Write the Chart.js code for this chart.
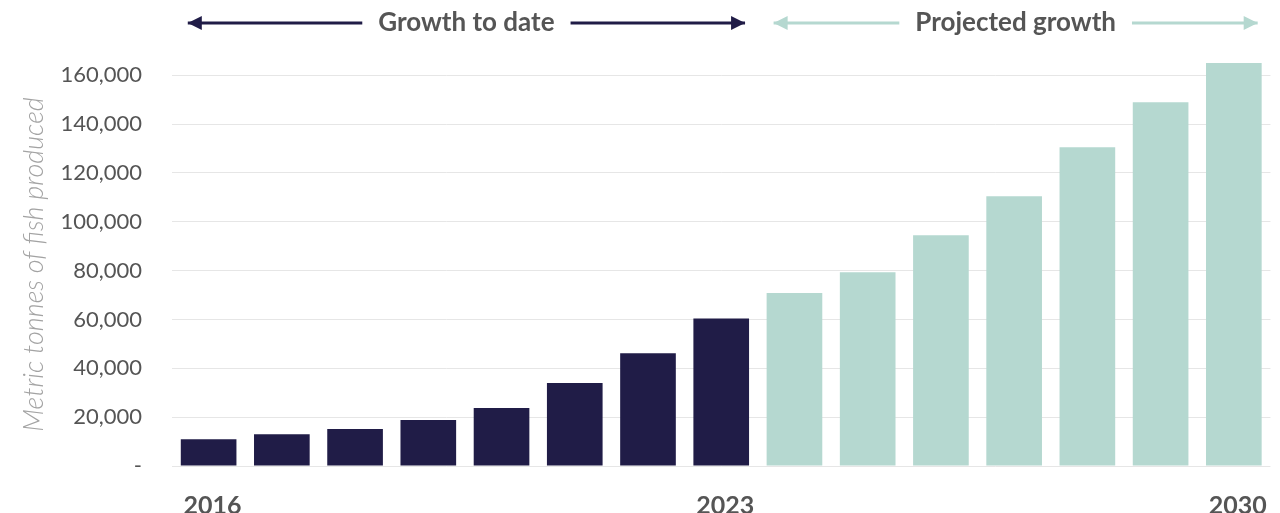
<!DOCTYPE html>
<html>
<head>
<meta charset="utf-8">
<script src="https://cdn.jsdelivr.net/npm/chart.js@4/dist/chart.umd.min.js"></script>
<style>
  html, body { margin: 0; padding: 0; background: #fff; }
  #wrap { width: 1280px; height: 513px; position: relative; }
</style>
</head>
<body>
<div id="wrap"><canvas id="chart"></canvas></div>
<script>
// years and production (metric tonnes)
const years = ["2016", "2017", "2018", "2019", "2020", "2021", "2022", "2023",
               "2024", "2025", "2026", "2027", "2028", "2029", "2030"];
const tonnes = [11000, 13000, 15100, 18800, 23700, 34000, 46200, 60400,
                70800, 79300, 94500, 110400, 130500, 148900, 165000];
const yTicks = [0, 20000, 40000, 60000, 80000, 100000, 120000, 140000, 160000];
const lastActualIndex = 7;   // 2023
const shownYears = ["2016", "2023", "2030"];

const NAVY = "#201c47";
const TEAL = "#b5d8d0";
const TEXT = "#555555";
const BAR_PCT = 0.76;

// header arrows + labels above the bars
const headerPlugin = {
  id: "header",
  afterDraw(chart) {
    const ctx = chart.ctx;
    const x = chart.scales.x;
    const barHalf = (x.getPixelForValue(1) - x.getPixelForValue(0)) * BAR_PCT / 2;
    const y = 23;

    function arrow(x1, x2, color, head) {
      ctx.save();
      ctx.strokeStyle = color;
      ctx.fillStyle = color;
      ctx.lineWidth = 3;
      ctx.beginPath();
      ctx.moveTo(x1, y);
      ctx.lineTo(x2, y);
      ctx.stroke();
      const dir = head === "left" ? -1 : 1;
      const tip = head === "left" ? x1 : x2;
      ctx.beginPath();
      ctx.moveTo(tip, y);
      ctx.lineTo(tip - dir * 14, y - 7);
      ctx.lineTo(tip - dir * 14, y + 7);
      ctx.closePath();
      ctx.fill();
      ctx.restore();
    }

    function group(from, to, text, color) {
      const left = x.getPixelForValue(from) - barHalf + 7;
      const right = x.getPixelForValue(to) + barHalf - 4;
      ctx.save();
      ctx.font = "bold 26px Lato";
      ctx.fillStyle = TEXT;
      ctx.textAlign = "center";
      ctx.textBaseline = "middle";
      const w = ctx.measureText(text).width;
      const mid = (left + right) / 2;
      ctx.fillText(text, mid, y);
      ctx.restore();
      arrow(left, mid - w / 2 - 16, color, "left");
      arrow(mid + w / 2 + 16, right, color, "right");
    }

    group(0, lastActualIndex, "Growth to date", NAVY);
    group(lastActualIndex + 1, years.length - 1, "Projected growth", TEAL);
  }
};

new Chart(document.getElementById("chart"), {
  type: "bar",
  data: {
    labels: years,
    datasets: [{
      data: tonnes,
      backgroundColor: tonnes.map((v, i) => (i <= lastActualIndex ? NAVY : TEAL)),
      barPercentage: BAR_PCT,
      categoryPercentage: 1.0
    }]
  },
  options: {
    responsive: true,
    maintainAspectRatio: false,
    animation: false,
    layout: { padding: { top: 63, right: 5, left: 0, bottom: 0 } },
    plugins: {
      legend: { display: false },
      tooltip: { enabled: false }
    },
    scales: {
      x: {
        grid: { display: false },
        border: { display: false },
        ticks: {
          autoSkip: false,
          maxRotation: 0,
          padding: 17,
          labelOffset: 4,
          color: TEXT,
          font: { family: "Lato", size: 25, weight: "bold" },
          callback: function (value) {
            const label = this.getLabelForValue(value);
            return shownYears.includes(label) ? label : "";
          }
        },
        afterFit(scale) { scale.height = 47; }
      },
      y: {
        min: 0,
        max: 165000,
        grid: { color: "#e6e6e6", lineWidth: 1, drawTicks: false },
        border: { display: false },
        ticks: {
          autoSkip: false,
          padding: 30,
          color: TEXT,
          font: { family: "Lato", size: 22 },
          callback: (v) => (v === 0 ? "-" : v.toLocaleString("en-US"))
        },
        afterBuildTicks(scale) {
          scale.ticks = yTicks.map((v) => ({ value: v }));
        },
        afterFit(scale) { scale.width = 172; },
        title: {
          display: true,
          text: "Metric tonnes of fish produced",
          color: "#a3a3a3",
          font: { family: "Lato", size: 27, style: "italic", weight: "300" },
          padding: { top: 18, bottom: 0 }
        }
      }
    }
  },
  plugins: [headerPlugin]
});
</script>
</body>
</html>
